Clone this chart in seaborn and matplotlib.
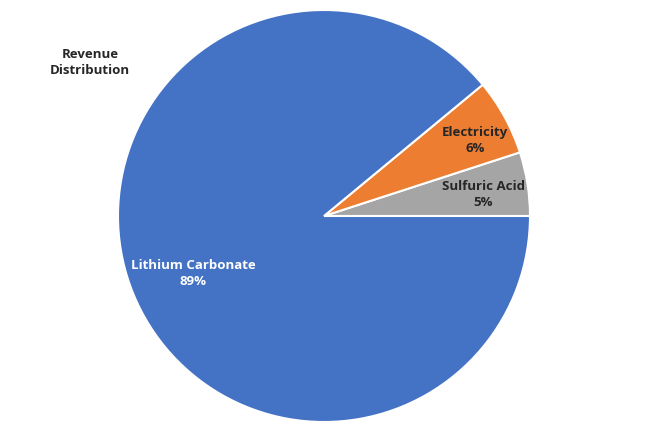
import numpy as np
import matplotlib
matplotlib.use("Agg")
import matplotlib.pyplot as plt
import seaborn as sns

categories = ["Sulfuric Acid", "Electricity", "Lithium Carbonate"]
shares = [5, 6, 89]
pct_labels = ["5%", "6%", "89%"]
colors = ["#A5A5A5", "#ED7D31", "#4472C4"]
text_colors = ["#262626", "#262626", "white"]
title_text = "Revenue\nDistribution"

sns.set_theme(style="white")
plt.rcParams['font.family'] = ['Open Sans', 'DejaVu Sans']

fig = plt.figure(figsize=(6.48, 4.35), dpi=100)
ax = fig.add_axes([118 / 648, 12 / 435, 412 / 648, 412 / 435])
wedges, _ = ax.pie(shares, colors=colors, startangle=0, counterclock=True,
                   radius=1.0, wedgeprops=dict(edgecolor="white", linewidth=1.5))
ax.set_xlim(-1, 1)
ax.set_ylim(-1, 1)
ax.set_aspect("equal")
ax.axis("off")

# label placement: radial fraction and angular offset per slice
dists = [0.78, 0.82, 0.69]
offsets = [-1.0, -2.0, 3.5]
for w, cat, pct, tc, d, off in zip(wedges, categories, pct_labels, text_colors, dists, offsets):
    ang = np.deg2rad((w.theta1 + w.theta2) / 2 + off)
    ax.text(d * np.cos(ang), d * np.sin(ang), f"{cat}\n{pct}", ha="center", va="center",
            color=tc, fontsize=9.5, fontweight="bold", linespacing=1.3)

fig.text(90 / 648, 1 - 62 / 435, title_text, ha="center", va="center",
         fontsize=9.5, fontweight="bold", color="#262626", linespacing=1.3)

fig.savefig("out.png", dpi=100, facecolor="white")
